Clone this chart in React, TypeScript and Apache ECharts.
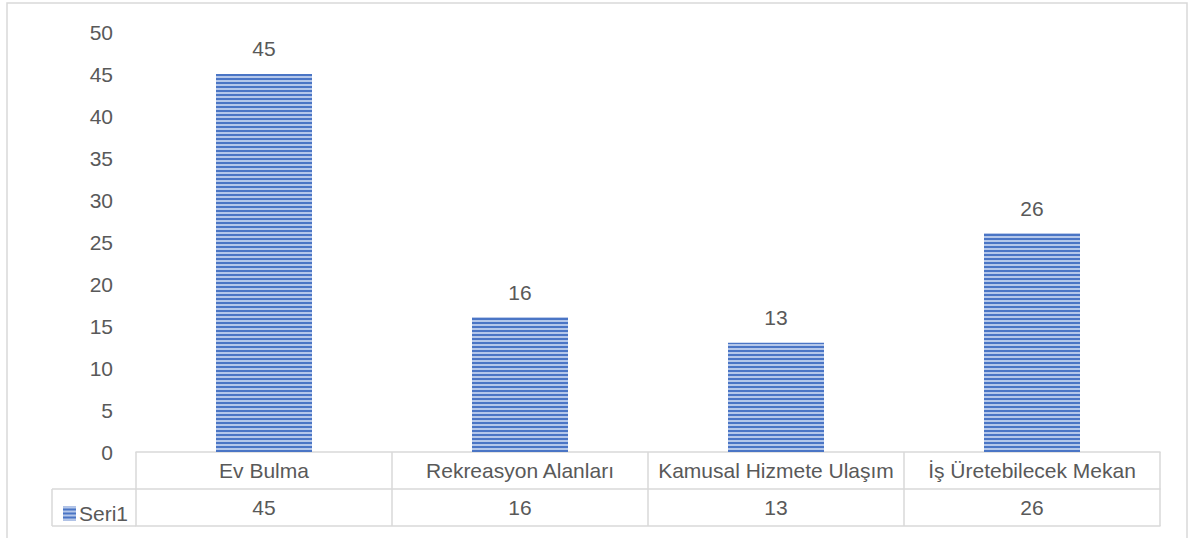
import React, { useEffect, useRef } from "react";
import * as echarts from "echarts";

const categories = ["Ev Bulma", "Rekreasyon Alanları", "Kamusal Hizmete Ulaşım", "İş Üretebilecek Mekan"];
const seriesName = "Seri1";
const values = [45, 16, 13, 26];
const yTicks = { min: 0, max: 50, interval: 5 };

const FONT = "Liberation Sans";
const TEXT = "#595959";
const LINE = "#d9d9d9";

export default function App() {
  const ref = useRef<HTMLDivElement>(null);
  useEffect(() => {
    if (!ref.current) return;
    const chart = echarts.init(ref.current, undefined, { renderer: "svg" });
    const gridLeft = 136, gridRight = 35, gridTop = 32, gridBottom = 86;
    const axisY = 538 - gridBottom;
    const rowH = 37;
    chart.setOption({
      animation: false,
      backgroundColor: "#fff",
      grid: { left: gridLeft, right: gridRight, top: gridTop, bottom: gridBottom },
      legend: {
        left: 58,
        top: axisY + rowH + 9,
        itemWidth: 13,
        itemHeight: 14,
        itemGap: 4,
        icon: "rect",
        textStyle: { color: TEXT, fontFamily: FONT, fontSize: 21, padding: [0, 0, 0, -2] },
        data: [seriesName],
      },
      xAxis: [
        {
          type: "category",
          data: categories,
          gridIndex: 0,
          axisLine: { show: true, lineStyle: { color: LINE, width: 1.5 } },
          axisTick: { show: true, length: rowH * 2, interval: 0, lineStyle: { color: LINE, width: 1.5 } },
          axisLabel: { interval: 0, margin: 8, color: TEXT, fontFamily: FONT, fontSize: 21 },
        },
        {
          type: "category",
          data: values.map(String),
          gridIndex: 0,
          position: "bottom",
          offset: rowH,
          axisLine: { show: true, lineStyle: { color: LINE, width: 1.5 } },
          axisTick: { show: false },
          axisLabel: { interval: 0, margin: 8, color: TEXT, fontFamily: FONT, fontSize: 21 },
        },
        {
          type: "category",
          data: values.map(String),
          gridIndex: 0,
          position: "bottom",
          offset: rowH * 2,
          axisLine: { show: true, lineStyle: { color: LINE, width: 1.5 } },
          axisTick: { show: false },
          axisLabel: { show: false },
        },
      ],
      yAxis: {
        type: "value",
        min: yTicks.min,
        max: yTicks.max,
        interval: yTicks.interval,
        axisLine: { show: false },
        axisTick: { show: false },
        splitLine: { show: false },
        axisLabel: { margin: 23, color: TEXT, fontFamily: FONT, fontSize: 21 },
      },
      series: [
        {
          name: seriesName,
          type: "bar",
          data: values,
          barWidth: "37.5%",
          itemStyle: {
            color: "#4a75c5",
            decal: {
              symbol: "rect",
              symbolSize: 1,
              dashArrayX: [1, 0],
              dashArrayY: [2, 2],
              rotation: 0,
              color: "rgba(225,234,250,0.7)",
            },
          },
          label: {
            show: true,
            position: "top",
            distance: 15,
            color: TEXT,
            fontFamily: FONT,
            fontSize: 21,
          },
        },
      ],
      graphic: [
        {
          type: "rect",
          shape: { x: 7, y: 3, width: 1180, height: 545 },
          style: { fill: "none", stroke: LINE, lineWidth: 1.5 },
          silent: true,
        },
        {
          type: "line",
          shape: { x1: 52, y1: axisY + rowH, x2: gridLeft, y2: axisY + rowH },
          style: { stroke: LINE, lineWidth: 1.5 },
        },
        {
          type: "line",
          shape: { x1: 52, y1: axisY + rowH * 2, x2: gridLeft, y2: axisY + rowH * 2 },
          style: { stroke: LINE, lineWidth: 1.5 },
        },
        {
          type: "line",
          shape: { x1: 52, y1: axisY + rowH, x2: 52, y2: axisY + rowH * 2 },
          style: { stroke: LINE, lineWidth: 1.5 },
        },
      ],
    });
    return () => chart.dispose();
  }, []);
  return <div ref={ref} style={{ width: 1195, height: 538, position: "absolute", left: 0, top: 0 }} />;
}
